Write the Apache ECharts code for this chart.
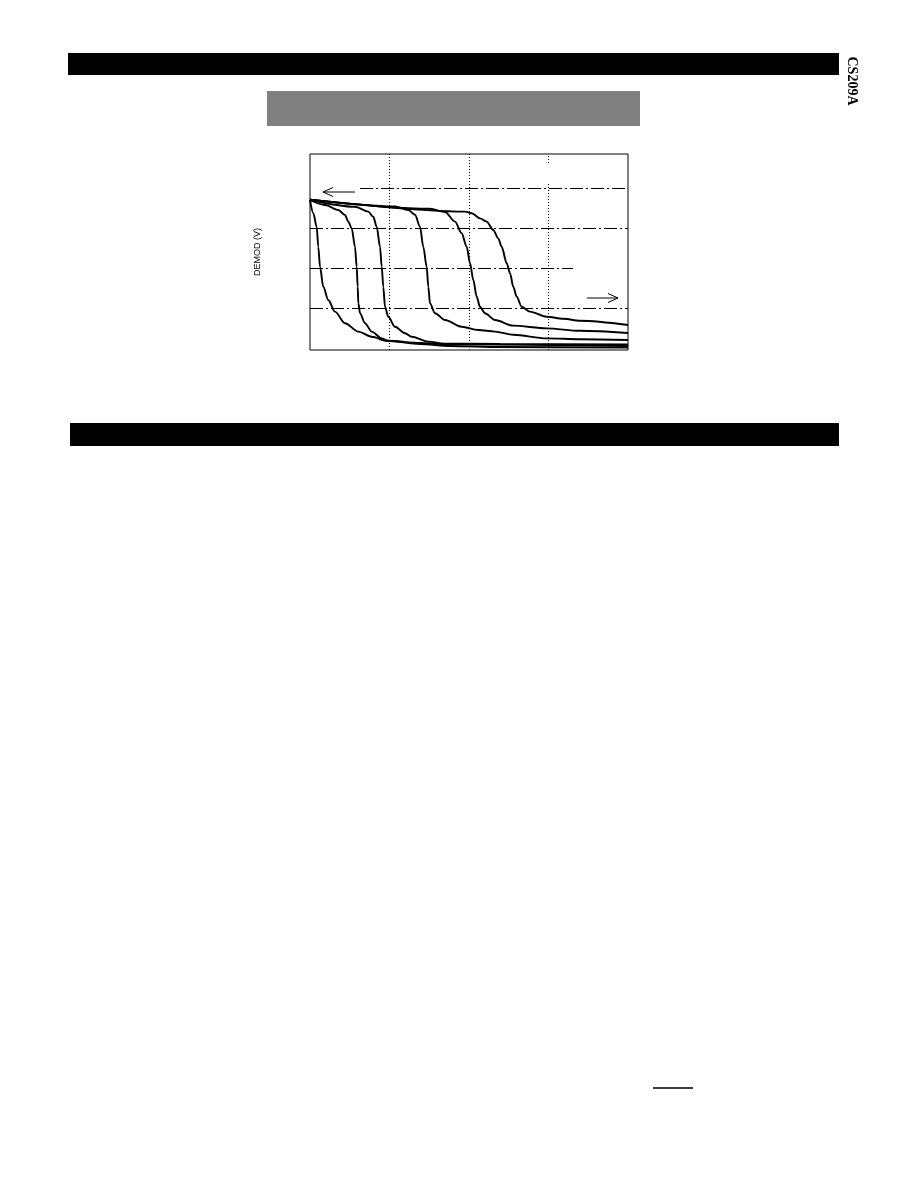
<!DOCTYPE html>
<html>
<head>
<meta charset="utf-8">
<script src="https://cdn.jsdelivr.net/npm/echarts@6/dist/echarts.min.js"></script>
<style>
  html, body { margin: 0; padding: 0; background: #fff; }
  #chart { width: 918px; height: 1188px; }
</style>
</head>
<body>
<div id="chart"></div>
<script>
// ---- data (x: arbitrary units 0..4, y: DEMOD volts) ----
const curve1 = [[0,3.70],[0.042,3.37],[0.084,3.03],[0.104,2.53],[0.126,2.03],[0.167,1.53],[0.230,1.20],[0.314,0.91],[0.440,0.62],[0.608,0.41],[0.776,0.28],[0.965,0.18],[1.384,0.10],[1.761,0.05],[2.390,0.025],[4.0,0.01]];
const curve2 = [[0,3.70],[0.189,3.575],[0.356,3.45],[0.440,3.325],[0.482,3.16],[0.525,2.99],[0.566,2.53],[0.587,2.03],[0.600,1.53],[0.608,1.12],[0.629,0.87],[0.692,0.62],[0.776,0.41],[0.902,0.24],[0.981,0.18],[1.384,0.125],[1.761,0.09],[4.0,0.05]];
const curve3 = [[0,3.70],[0.566,3.53],[0.733,3.41],[0.796,3.28],[0.839,3.03],[0.881,2.53],[0.902,2.03],[0.922,1.53],[0.943,1.03],[0.985,0.78],[1.069,0.53],[1.195,0.37],[1.279,0.28],[1.484,0.16],[1.698,0.11],[2.390,0.10],[4.0,0.09]];
const curve4 = [[0,3.71],[1.069,3.54],[1.237,3.45],[1.321,3.33],[1.384,3.03],[1.425,2.53],[1.468,2.03],[1.488,1.53],[1.509,1.12],[1.572,0.87],[1.698,0.70],[1.908,0.53],[2.117,0.45],[2.327,0.41],[2.557,0.33],[2.977,0.24],[3.396,0.22],[4.0,0.20]];
const curve5 = [[0,3.71],[1.509,3.48],[1.698,3.40],[1.824,3.16],[1.908,2.87],[1.971,2.53],[2.013,2.12],[2.054,1.70],[2.097,1.28],[2.138,1.03],[2.201,0.87],[2.327,0.70],[2.553,0.56],[2.977,0.49],[3.396,0.43],[4.0,0.375]];
const curve6 = [[0,3.71],[1.950,3.41],[2.034,3.37],[2.138,3.24],[2.222,3.16],[2.305,2.95],[2.368,2.74],[2.411,2.53],[2.474,2.12],[2.516,1.87],[2.557,1.53],[2.600,1.28],[2.663,1.03],[2.767,0.91],[2.977,0.78],[3.186,0.73],[3.396,0.68],[4.0,0.575]];
const curves = [curve1, curve2, curve3, curve4, curve5, curve6];

// grid reference lines (data units), with gaps as in the original
const hGridSegments = [
  [[0,1],[4,1]],
  [[0,2],[3.31,2]], [[3.96,2],[4.05,2]],
  [[0,3],[4,3]],
  [[-0.01,4],[0.03,4]], [[0.63,4],[4,4]]
];
const vGridSegments = [
  [[1,-0.05],[1,4.85]],
  [[2,-0.05],[2,4.85]],
  [[3,-0.05],[3,4.15]], [[3,4.625],[3,4.85]]
];
// annotation arrows (data units): [from, to]
const arrowLeft = [[0.566,3.90],[0.164,3.90]];
const arrowRight = [[3.484,1.25],[3.874,1.25]];

const yAxisName = 'DEMOD (V)';
const partNumber = 'CS209A';

const chart = echarts.init(document.getElementById('chart'), null, {renderer: 'canvas'});

const series = curves.map((c, i) => ({
  type: 'line',
  data: c,
  showSymbol: false,
  smooth: 0.3,
  smoothMonotone: 'x',
  lineStyle: { color: '#000', width: 1.9 },
  silent: true,
  z: 5
}));

series.push({
  type: 'line',
  data: [],
  silent: true,
  markLine: {
    silent: true,
    symbol: ['none','none'],
    label: { show: false },
    lineStyle: { color: '#000', width: 1, type: [13,3,2,3] },
    data: hGridSegments.map(s => [{coord: s[0]}, {coord: s[1]}])
  }
});
series.push({
  type: 'line',
  data: [],
  silent: true,
  markLine: {
    silent: true,
    symbol: ['none','none'],
    label: { show: false },
    lineStyle: { color: '#000', width: 1, type: [1,2] },
    data: vGridSegments.map(s => [{coord: s[0]}, {coord: s[1]}])
  }
});

chart.setOption({
  animation: false,
  backgroundColor: '#fff',
  grid: {
    left: 310, top: 154, width: 318, height: 196,
    show: true, borderColor: '#000', borderWidth: 1, backgroundColor: 'transparent'
  },
  xAxis: {
    type: 'value', min: 0, max: 4,
    axisLine: { show: false }, axisTick: { show: false },
    axisLabel: { show: false }, splitLine: { show: false }
  },
  yAxis: {
    type: 'value', min: -0.05, max: 4.85,
    name: yAxisName, nameLocation: 'middle', nameGap: 48, nameRotate: 90,
    nameTextStyle: { fontFamily: 'Liberation Sans', fontSize: 9, color: '#000' },
    axisLine: { show: false }, axisTick: { show: false },
    axisLabel: { show: false }, splitLine: { show: false }
  },
  series: series
});

function arrowGraphic(a) {
  const p0 = chart.convertToPixel({gridIndex: 0}, a[0]);
  const p1 = chart.convertToPixel({gridIndex: 0}, a[1]);
  const dir = Math.sign(p1[0] - p0[0]);
  const head = 10, half = 4.5;
  return [
    { type: 'line', shape: { x1: p0[0], y1: p0[1], x2: p1[0], y2: p1[1] }, style: { stroke: '#000', lineWidth: 1 }, z: 10 },
    { type: 'polyline', shape: { points: [[p1[0] - dir*head, p1[1] - half], [p1[0], p1[1]], [p1[0] - dir*head, p1[1] + half]] }, style: { stroke: '#000', lineWidth: 1, fill: null }, z: 10 }
  ];
}

chart.setOption({
  graphic: [
    // header black bar
    { type: 'rect', shape: { x: 68, y: 53, width: 771, height: 22 }, style: { fill: '#000' } },
    // gray title box
    { type: 'rect', shape: { x: 267, y: 91, width: 373, height: 35 }, style: { fill: '#808080' } },
    // second black bar
    { type: 'rect', shape: { x: 70, y: 423, width: 769, height: 23 }, style: { fill: '#000' } },
    // side part number
    { type: 'text', x: 852, y: 81, rotation: -Math.PI / 2,
      style: { text: partNumber, font: 'bold 14px "Liberation Serif"', fill: '#000', align: 'center', verticalAlign: 'middle' } },
    // small rule near bottom
    { type: 'line', shape: { x1: 653, y1: 1088, x2: 693, y2: 1088 }, style: { stroke: '#000', lineWidth: 1.5 } },
    ...arrowGraphic(arrowLeft),
    ...arrowGraphic(arrowRight)
  ]
});
</script>
</body>
</html>
